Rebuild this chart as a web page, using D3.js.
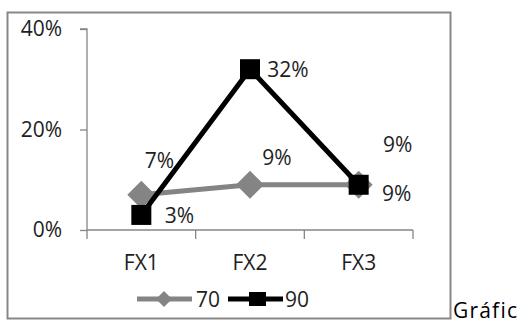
<!DOCTYPE html>
<html><head><meta charset="utf-8">
<script src="https://cdn.jsdelivr.net/npm/d3@7"></script>
<style>
html,body{margin:0;padding:0;background:#fff;overflow:hidden;}
svg{display:block;font-family:"Open Sans",sans-serif;}
</style></head>
<body>
<script>
const categories = ["FX1", "FX2", "FX3"];
const series70 = [0.07, 0.09, 0.09];
const series90 = [0.03, 0.32, 0.09];
const seriesNames = ["70", "90"];
const yTicks = [0, 0.2, 0.4];
const trailingText = "Gráfic";

// label offsets (layout, not data)
const labelOffsets70 = [[18, -35], [27, -28], [39, -41]];
const labelOffsets90 = [[38, 0], [38, 0], [38, 8]];

const W = 522, H = 320;
const svg = d3.select("body").append("svg").attr("width", W).attr("height", H);

const fontSize = 21;
const axisColor = "#868686";
const textColor = "#1e1e1e";

// frame
svg.append("rect").attr("x", 7.5).attr("y", 12.5).attr("width", 443).attr("height", 306)
  .attr("fill", "#fff").attr("stroke", "#878787").attr("stroke-width", 2);

const x = d3.scaleBand().domain(categories).range([87, 413]).paddingInner(0).paddingOuter(0);
const y = d3.scaleLinear().domain([0, 0.4]).range([230, 29]);
const fmt = d3.format(".0%");

// y axis
const yAxis = d3.axisLeft(y).tickValues(yTicks).tickFormat(fmt).tickSize(7).tickPadding(18);
const gy = svg.append("g").attr("transform", "translate(87,0)").call(yAxis);
gy.select(".domain").attr("stroke", axisColor).attr("stroke-width", 1.3).attr("d", `M-7,${y(0.4)}H0V${y(0)}`);
gy.selectAll(".tick line").attr("stroke", axisColor).attr("stroke-width", 1.3);
gy.selectAll(".tick text").attr("fill", textColor).style("font-size", fontSize + "px").style("font-family", "'Open Sans',sans-serif");

// x axis
const xAxis = d3.axisBottom(x).tickSize(0).tickPadding(25);
const gx = svg.append("g").attr("transform", `translate(0,${y(0)})`).call(xAxis);
gx.select(".domain").attr("stroke", axisColor).attr("stroke-width", 1.3).attr("d", `M${x.range()[0]},0H${x.range()[1]}`);
gx.selectAll(".tick text").attr("fill", textColor).style("font-size", fontSize + "px").style("font-family", "'Open Sans',sans-serif");
// category boundary ticks
const boundaries = categories.map(c => x(c)).concat([x.range()[1]]);
gx.selectAll(".bt").data(boundaries).enter().append("line")
  .attr("x1", d => d).attr("x2", d => d).attr("y1", 0).attr("y2", 9)
  .attr("stroke", axisColor).attr("stroke-width", 1.3);

const cx = c => x(c) + x.bandwidth() / 2;
const line = d3.line().x((d, i) => cx(categories[i])).y(d => y(d));

// series 70 (gray, diamonds)
const gray = "#848484";
svg.append("path").datum(series70).attr("d", line).attr("fill", "none")
  .attr("stroke", gray).attr("stroke-width", 5).attr("stroke-linejoin", "round");
const diamond = (px, py, r) => `M${px},${py - r}L${px + r},${py}L${px},${py + r}L${px - r},${py}Z`;
svg.selectAll(".d70").data(series70).enter().append("path")
  .attr("d", (d, i) => diamond(cx(categories[i]), y(d), 14)).attr("fill", gray);

// series 90 (black, squares)
svg.append("path").datum(series90).attr("d", line).attr("fill", "none")
  .attr("stroke", "#000").attr("stroke-width", 5).attr("stroke-linejoin", "round");
svg.selectAll(".s90").data(series90).enter().append("rect")
  .attr("x", (d, i) => cx(categories[i]) - 10).attr("y", d => y(d) - 10)
  .attr("width", 20).attr("height", 20).attr("fill", "#000");

// labels
const lbl = (data, offs) => svg.append("g").selectAll("text").data(data).enter().append("text")
  .attr("x", (d, i) => cx(categories[i]) + offs[i][0])
  .attr("y", (d, i) => y(d) + offs[i][1])
  .attr("text-anchor", "middle").attr("dominant-baseline", "central")
  .attr("fill", textColor).style("font-size", fontSize + "px").text(d => fmt(d));
lbl(series70, labelOffsets70);
lbl(series90, labelOffsets90);

// legend
const lg = svg.append("g");
const ly = 299;
lg.append("line").attr("x1", 137).attr("x2", 192).attr("y1", ly).attr("y2", ly).attr("stroke", gray).attr("stroke-width", 5);
lg.append("path").attr("d", diamond(164, ly, 8)).attr("fill", gray);
lg.append("text").attr("x", 196).attr("y", ly).attr("dominant-baseline", "central").attr("fill", textColor)
  .style("font-size", fontSize + "px").text(seriesNames[0]);
lg.append("line").attr("x1", 228).attr("x2", 283).attr("y1", ly).attr("y2", ly).attr("stroke", "#000").attr("stroke-width", 5);
lg.append("rect").attr("x", 249).attr("y", ly - 7).attr("width", 17).attr("height", 14).attr("fill", "#000");
lg.append("text").attr("x", 285).attr("y", ly).attr("dominant-baseline", "central").attr("fill", textColor)
  .style("font-size", fontSize + "px").text(seriesNames[1]);

// trailing text (clipped at the right edge, as in the reference)
svg.append("text").attr("x", 453).attr("y", 318).attr("fill", "#000")
  .style("font-size", fontSize + "px").style("letter-spacing", "1.2px").text(trailingText);
</script>
</body></html>
